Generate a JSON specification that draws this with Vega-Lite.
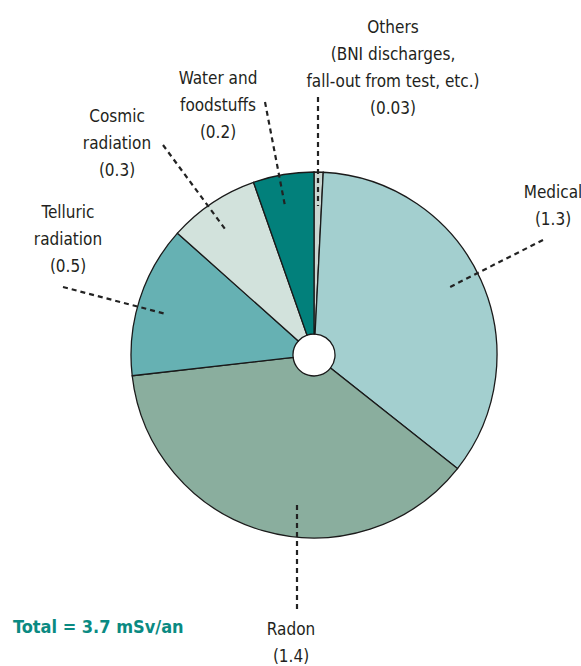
{
  "$schema": "https://vega.github.io/schema/vega-lite/v6.json",
  "width": 581,
  "height": 666,
  "autosize": "none",
  "padding": 0,
  "background": "white",
  "config": {"view": {"stroke": null}},
  "datasets": {
    "slices": [
      {"source": "Others", "dose": 0.03, "order": 1},
      {"source": "Medical", "dose": 1.3, "order": 2},
      {"source": "Radon", "dose": 1.4, "order": 3},
      {"source": "Telluric radiation", "dose": 0.5, "order": 4},
      {"source": "Cosmic radiation", "dose": 0.3, "order": 5},
      {"source": "Water and foodstuffs", "dose": 0.2, "order": 6}
    ],
    "leaders": [
      {"source": "Others", "x1": 318, "y1": 97, "x2": 318, "y2": 206},
      {"source": "Water and foodstuffs", "x1": 265, "y1": 102, "x2": 285, "y2": 206},
      {"source": "Cosmic radiation", "x1": 163, "y1": 145, "x2": 225, "y2": 229},
      {"source": "Telluric radiation", "x1": 63, "y1": 287, "x2": 166, "y2": 314},
      {"source": "Medical", "x1": 543, "y1": 240, "x2": 450, "y2": 287},
      {"source": "Radon", "x1": 297, "y1": 505, "x2": 297, "y2": 612}
    ],
    "labels": [
      {"text": "Others\n(BNI discharges,\nfall-out from test, etc.)\n(0.03)", "x": 393, "y": 33},
      {"text": "Water and\nfoodstuffs\n(0.2)", "x": 218, "y": 84},
      {"text": "Cosmic\nradiation\n(0.3)", "x": 117, "y": 122},
      {"text": "Telluric\nradiation\n(0.5)", "x": 68, "y": 218},
      {"text": "Medical\n(1.3)", "x": 553, "y": 198},
      {"text": "Radon\n(1.4)", "x": 291, "y": 635}
    ],
    "total": [{"text": "Total = 3.7 mSv/an", "x": 13, "y": 633}]
  },
  "layer": [
    {
      "data": {"name": "slices"},
      "mark": {"type": "arc", "radius": 183, "radius2": 21, "stroke": "#1a1a1a", "strokeWidth": 1.3},
      "encoding": {
        "x": {"datum": 314, "type": "quantitative", "scale": {"domain": [0, 581], "nice": false, "zero": false}, "axis": null},
        "y": {"datum": 355, "type": "quantitative", "scale": {"domain": [0, 666], "nice": false, "zero": false, "reverse": true}, "axis": null},
        "theta": {"field": "dose", "type": "quantitative", "stack": true},
        "order": {"field": "order", "type": "quantitative"},
        "color": {
          "field": "source",
          "type": "nominal",
          "legend": null,
          "scale": {
            "domain": ["Others", "Medical", "Radon", "Telluric radiation", "Cosmic radiation", "Water and foodstuffs"],
            "range": ["#c9d6d1", "#a3cfcf", "#8aae9e", "#66b1b3", "#d2e2dc", "#02807b"]
          }
        }
      }
    },
    {
      "data": {"name": "leaders"},
      "mark": {"type": "rule", "strokeDash": [5, 4], "strokeWidth": 2.2, "color": "#222222"},
      "encoding": {
        "x": {"field": "x1", "type": "quantitative"},
        "y": {"field": "y1", "type": "quantitative"},
        "x2": {"field": "x2"},
        "y2": {"field": "y2"}
      }
    },
    {
      "data": {"name": "labels"},
      "mark": {"type": "text", "font": "DejaVu Sans Condensed", "fontStretch": "condensed", "fontSize": 17, "lineBreak": "\n", "lineHeight": 27, "align": "center", "baseline": "alphabetic", "color": "#231f20"},
      "encoding": {
        "x": {"field": "x", "type": "quantitative"},
        "y": {"field": "y", "type": "quantitative"},
        "text": {"field": "text"}
      }
    },
    {
      "data": {"name": "total"},
      "mark": {"type": "text", "font": "DejaVu Sans Condensed", "fontSize": 18, "fontWeight": "bold", "align": "left", "baseline": "alphabetic", "color": "#0a8a82"},
      "encoding": {
        "x": {"field": "x", "type": "quantitative"},
        "y": {"field": "y", "type": "quantitative"},
        "text": {"field": "text"}
      }
    }
  ]
}
